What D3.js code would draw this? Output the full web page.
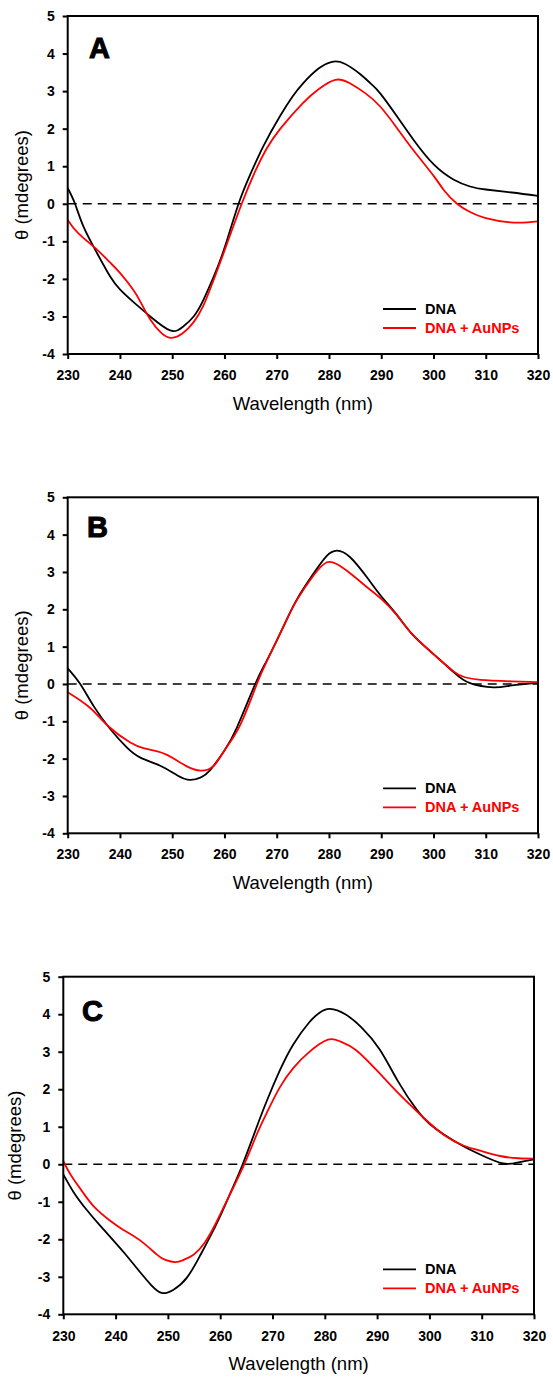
<!DOCTYPE html>
<html>
<head>
<meta charset="utf-8">
<script src="https://cdn.jsdelivr.net/npm/d3@7"></script>
<style>
  html, body { margin: 0; padding: 0; background: #fff; }
  svg { display: block; }
  text { font-family: "Liberation Sans", Arial, sans-serif; }
</style>
</head>
<body>
<svg id="chart" width="553" height="1378"></svg>
<script>
// ---------------- DATA ----------------
const xTicks = [230, 240, 250, 260, 270, 280, 290, 300, 310, 320];
const yTicks = [-4, -3, -2, -1, 0, 1, 2, 3, 4, 5];
const seriesNames = ["DNA", "DNA + AuNPs"];
const panelLabels = ["A", "B", "C"];

// Panel A  [wavelength nm, θ mdeg]
const panelA_DNA = [[230,0.42],[231.4,0],[233,-0.6],[235.6,-1.31],[238.1,-1.93],[240,-2.28],[242.6,-2.62],[245.8,-3.0],[249.6,-3.37],[252,-3.28],[254.1,-3.0],[256,-2.55],[258,-1.92],[260,-1.18],[262.7,0],[265,0.8],[267.5,1.55],[270.7,2.35],[273,2.85],[275,3.2],[278,3.6],[280.6,3.78],[283,3.73],[286,3.45],[288,3.2],[289.8,2.94],[293,2.33],[296.2,1.70],[300.1,1.04],[303.9,0.64],[307,0.46],[310,0.38],[315,0.3],[320,0.21]];
const panelA_Au  = [[230,-0.43],[232,-0.78],[235.6,-1.22],[238,-1.55],[240,-1.84],[242.6,-2.3],[244,-2.63],[245.8,-3.08],[248,-3.45],[249.9,-3.57],[252,-3.45],[254.1,-3.15],[256,-2.7],[258,-2.0],[260,-1.25],[263.3,0],[266,0.9],[268,1.45],[270.7,2.0],[275,2.68],[278,3.05],[281.2,3.30],[284,3.21],[287,2.94],[289.8,2.59],[293,2.02],[296.2,1.42],[300.1,0.73],[302,0.36],[304.5,0],[307,-0.22],[310,-0.38],[315.3,-0.5],[320,-0.47]];

// Panel B
const panelB_DNA = [[230,0.42],[232.4,0],[235,-0.6],[238.1,-1.2],[241.3,-1.70],[244,-1.98],[247.7,-2.19],[251,-2.45],[253.4,-2.57],[255.5,-2.5],[257.3,-2.3],[260,-1.78],[262.4,-1.16],[265.9,0],[268,0.6],[270,1.16],[272,1.75],[274,2.3],[277,2.95],[279.5,3.42],[281.5,3.57],[284,3.4],[287.3,2.85],[290,2.35],[293,1.85],[296,1.32],[300,0.8],[303.9,0.31],[307,0.02],[311.5,-0.09],[315,-0.04],[320,0.03]];
const panelB_Au  = [[230,-0.22],[234.2,-0.63],[238,-1.16],[241.9,-1.56],[244.5,-1.72],[247,-1.8],[249,-1.9],[250.9,-2.05],[253,-2.22],[255.4,-2.32],[257.9,-2.2],[260,-1.78],[263,-1.1],[266.2,0],[268,0.58],[270,1.16],[272,1.75],[274,2.28],[277,2.9],[279.6,3.26],[282,3.17],[285,2.86],[287.3,2.59],[290,2.28],[293,1.84],[296,1.32],[300,0.8],[303.9,0.33],[306,0.18],[309,0.11],[315,0.07],[320,0.05]];

// Panel C
const panelC_DNA = [[230,-0.27],[232,-0.75],[234.5,-1.22],[237,-1.63],[239.9,-2.08],[242,-2.42],[244.7,-2.88],[246.8,-3.22],[248.8,-3.43],[251,-3.35],[253.6,-3.03],[256.1,-2.45],[258,-1.95],[260,-1.38],[262,-0.75],[264.3,0],[267,1.0],[269,1.72],[271.4,2.5],[274,3.2],[277,3.78],[279,4.04],[281,4.14],[284,3.99],[287,3.65],[290.5,3.06],[294,2.21],[297.6,1.45],[300,1.08],[303,0.77],[306.5,0.48],[310,0.24],[314.1,0.02],[317,0.05],[320,0.13]];
const panelC_Au  = [[230,0.08],[231.5,-0.3],[233.8,-0.76],[236,-1.15],[238.9,-1.5],[241.5,-1.75],[244.7,-2.03],[247.9,-2.41],[249.5,-2.55],[251.4,-2.61],[253,-2.55],[254.9,-2.41],[257,-2.1],[259,-1.62],[261,-1.05],[264.6,0],[267,0.8],[269,1.4],[271.4,2.05],[274,2.57],[277,2.99],[280.6,3.32],[283,3.27],[286,3.04],[290.5,2.42],[294,1.9],[297.6,1.41],[300,1.1],[303,0.76],[306.5,0.5],[310,0.35],[313.5,0.22],[317,0.16],[320,0.15]];

// ---------------- LAYOUT ----------------
const layout = [
  { label: panelLabels[0], dna: panelA_DNA, au: panelA_Au, x0: 67.7, x1: 538, top: 16,    bottom: 354,   lx: 89, ly: 58,   yTitleX: 28, tickLabelDy: 26, titleDy: 56, legX: 383 },
  { label: panelLabels[1], dna: panelB_DNA, au: panelB_Au, x0: 67.7, x1: 538, top: 497.3, bottom: 833.3, lx: 87, ly: 537,  yTitleX: 28, tickLabelDy: 26, titleDy: 56, legX: 383 },
  { label: panelLabels[2], dna: panelC_DNA, au: panelC_Au, x0: 63.3, x1: 534, top: 976.7, bottom: 1314.3, lx: 82, ly: 1021, yTitleX: 21, tickLabelDy: 27, titleDy: 56, legX: 383 }
];
const colors = ["#000000", "#ff0000"];

const svg = d3.select("#chart");

layout.forEach(p => {
  const x = d3.scaleLinear().domain([230, 320]).range([p.x0, p.x1]);
  const y = d3.scaleLinear().domain([-4, 5]).range([p.bottom, p.top]);
  const g = svg.append("g");

  // zero dashed line
  g.append("line")
    .attr("x1", x(230)).attr("x2", x(320))
    .attr("y1", y(0)).attr("y2", y(0))
    .attr("stroke", "#000").attr("stroke-width", 1.6)
    .attr("stroke-dasharray", "9,6");

  // curves
  const line = d3.line()
    .x(d => x(d[0])).y(d => y(d[1]))
    .curve(d3.curveNatural);
  [p.dna, p.au].forEach((s, i) => {
    g.append("path").datum(s)
      .attr("d", line)
      .attr("fill", "none")
      .attr("stroke", colors[i])
      .attr("stroke-width", 1.8);
  });

  // frame
  g.append("rect")
    .attr("x", p.x0).attr("y", p.top)
    .attr("width", p.x1 - p.x0).attr("height", p.bottom - p.top)
    .attr("fill", "none").attr("stroke", "#000").attr("stroke-width", 2);

  // axes
  const xAxis = d3.axisBottom(x).tickValues(xTicks).tickSize(5).tickPadding(0).tickFormat(d3.format("d"));
  const gx = g.append("g").attr("transform", `translate(0,${p.bottom})`).call(xAxis);
  gx.select(".domain").remove();
  gx.selectAll(".tick line").attr("stroke", "#000").attr("stroke-width", 2);
  gx.selectAll(".tick text")
    .attr("y", p.tickLabelDy).attr("dy", null)
    .attr("fill", "#000").attr("font-size", 14).attr("font-weight", "bold")
    .attr("font-family", "'Liberation Sans', Arial, sans-serif");

  const yAxis = d3.axisLeft(y).tickValues(yTicks).tickSize(5).tickPadding(8).tickFormat(d3.format("d"));
  const gy = g.append("g").attr("transform", `translate(${p.x0},0)`).call(yAxis);
  gy.select(".domain").remove();
  gy.selectAll(".tick line").attr("stroke", "#000").attr("stroke-width", 2);
  gy.selectAll(".tick text")
    .attr("fill", "#000").attr("font-size", 14).attr("font-weight", "bold")
    .attr("font-family", "'Liberation Sans', Arial, sans-serif")
    .text(d => d < 0 ? "-" + Math.abs(d) : String(d));

  // axis titles
  g.append("text")
    .attr("x", (p.x0 + p.x1) / 2).attr("y", p.bottom + p.titleDy)
    .attr("text-anchor", "middle").attr("font-size", 18.5)
    .text("Wavelength (nm)");
  g.append("text")
    .attr("transform", `translate(${p.yTitleX},${(p.top + p.bottom) / 2}) rotate(-90)`)
    .attr("text-anchor", "middle").attr("font-size", 18.5)
    .text("θ (mdegrees)");

  // panel label
  g.append("text")
    .attr("x", p.lx).attr("y", p.ly)
    .attr("font-size", 29).attr("font-weight", "bold")
    .attr("stroke", "#000").attr("stroke-width", 1)
    .text(p.label);

  // legend
  seriesNames.forEach((name, i) => {
    const ly = p.bottom - 45 + i * 19;
    g.append("line")
      .attr("x1", p.legX).attr("x2", p.legX + 33)
      .attr("y1", ly).attr("y2", ly)
      .attr("stroke", colors[i]).attr("stroke-width", 1.8);
    g.append("text")
      .attr("x", p.legX + 42).attr("y", ly + 5)
      .attr("font-size", 14.5).attr("font-weight", "bold")
      .attr("fill", colors[i])
      .text(name);
  });
});
</script>
</body>
</html>
